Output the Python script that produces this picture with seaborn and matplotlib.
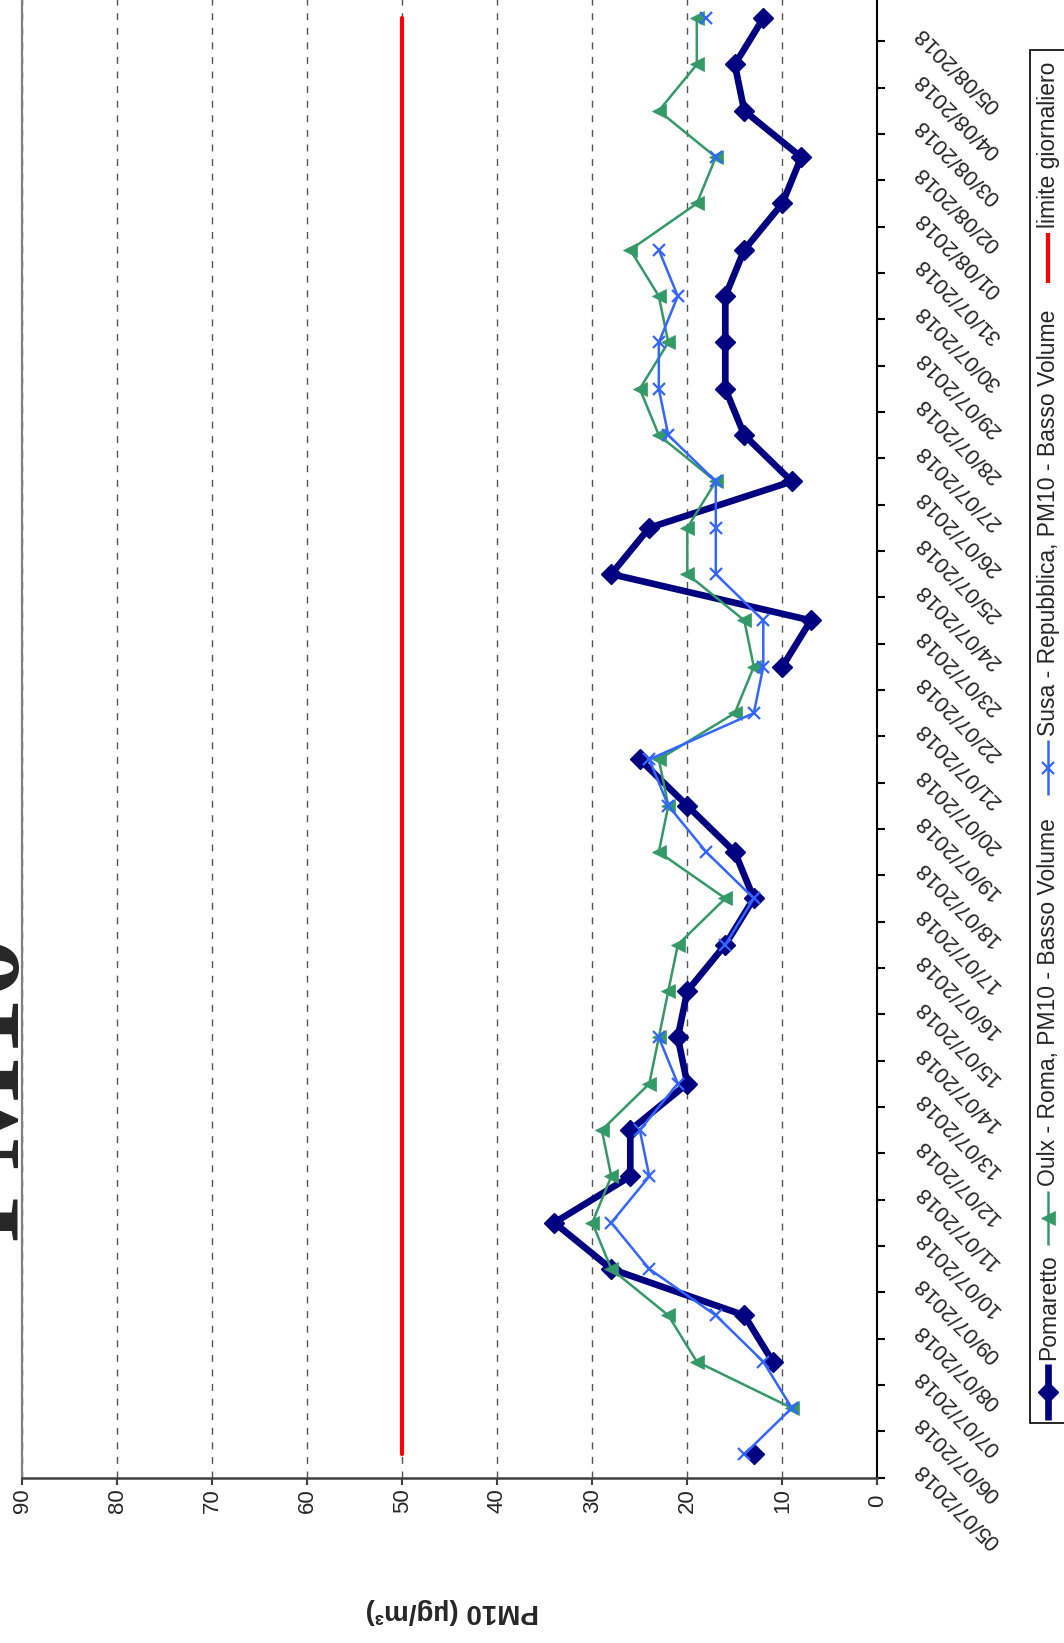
import numpy as np
import pandas as pd
import seaborn as sns
import matplotlib.pyplot as plt
from matplotlib.patches import Rectangle

nan = np.nan

# Data (one value per day, 05/07/2018 -> 05/08/2018)
dates = ['05/07/2018', '06/07/2018', '07/07/2018', '08/07/2018', '09/07/2018',
         '10/07/2018', '11/07/2018', '12/07/2018', '13/07/2018', '14/07/2018',
         '15/07/2018', '16/07/2018', '17/07/2018', '18/07/2018', '19/07/2018',
         '20/07/2018', '21/07/2018', '22/07/2018', '23/07/2018', '24/07/2018',
         '25/07/2018', '26/07/2018', '27/07/2018', '28/07/2018', '29/07/2018',
         '30/07/2018', '31/07/2018', '01/08/2018', '02/08/2018', '03/08/2018',
         '04/08/2018', '05/08/2018']
pomaretto = [13, nan, 11, 14, 28, 34, 26, 26, 20, 21, 20, 16, 13, 15, 20, 25,
             nan, 10, 7, 28, 24, 9, 14, 16, 16, 16, 14, 10, 8, 14, 15, 12]
oulx = [nan, 9, 19, 22, 28, 30, 28, 29, 24, 23, 22, 21, 16, 23, 22, 23,
        15, 13, 14, 20, 20, 17, 23, 25, 22, 23, 26, 19, 17, 23, 19, 19]
susa = [14, 9, 12, 17, 24, 28, 24, 25, 21, 23, nan, 16, 13, 18, 22, 24,
        13, 12, 12, 17, 17, 17, 22, 23, 23, 21, 23, nan, 17, nan, nan, 18]
limite = [50] * len(dates)
value_ticks = [0, 10, 20, 30, 40, 50, 60, 70, 80, 90]

names = ['Pomaretto', 'Oulx - Roma, PM10 - Basso Volume',
         'Susa - Repubblica, PM10 - Basso Volume', 'limite giornaliero']

sns.set_style('white')
plt.rcParams['font.family'] = ['Liberation Sans', 'DejaVu Sans']

W, H = 1064, 1643
fig = plt.figure(figsize=(W / 100, H / 100), dpi=100)
# chart is drawn rotated: values run right->left, days run bottom->top
ax = fig.add_axes([22.3 / W, (H - 1477.5) / H, 855 / W, 1482.5 / H])

day = np.arange(len(dates))


def segments(values):
    # split a series at missing days so the line shows gaps
    v = pd.Series(values, dtype=float)
    df = pd.DataFrame({'day': day, 'value': v, 'seg': v.isna().cumsum()})
    return df.dropna()


styles = [
    dict(color='#000080', lw=4.8, marker='D', ms=10, mew=1),
    dict(color='#339966', lw=1.8, marker='<', ms=9.5, mew=0.5),
    dict(color='#3366FF', lw=1.8, marker='x', ms=8, mew=1.6),
]
for series, st in zip([pomaretto, oulx, susa], styles):
    sns.lineplot(data=segments(series), x='value', y='day', units='seg',
                 estimator=None, orient='y', sort=False, legend=False, ax=ax,
                 color=st['color'], linewidth=st['lw'], marker=st['marker'],
                 markersize=st['ms'], markeredgewidth=st['mew'],
                 markeredgecolor=st['color'])
sns.lineplot(x=limite, y=day, orient='y', sort=False, estimator=None,
             color='#FF0000', linewidth=3, ax=ax, legend=False)

ax.set_xlim(90, 0)
ax.set_ylim(-0.5, len(dates) - 0.5)
ax.set_xlabel('')
ax.set_ylabel('')

# value axis (bottom)
ax.set_xticks(value_ticks)
ax.set_xticklabels([str(v) for v in value_ticks], rotation=90, va='center',
                   ha='center', fontsize=16)
ax.tick_params(axis='x', length=5, width=1.5, color='#404040', pad=11.5,
               direction='out', bottom=True)
ax.grid(axis='x', color='#555555', lw=1, linestyle=(0, (5, 5.5)))
ax.grid(axis='y', visible=False)

# day axis (right)
ax.yaxis.tick_right()
ax.set_yticks(day - 0.25)
ax.set_yticklabels(dates, fontsize=16)
plt.setp(ax.get_yticklabels(), rotation=135, rotation_mode='anchor',
         ha='right', va='center')
ax.tick_params(axis='y', which='major', length=0, pad=30)
ax.set_yticks(np.arange(len(dates) + 1) - 0.5, minor=True)
ax.tick_params(axis='y', which='minor', length=6, width=1.5, color='black',
               right=True, left=False, direction='out')

ax.spines['top'].set_visible(False)
ax.spines['left'].set_color('#808080')
ax.spines['left'].set_linewidth(1.6)
ax.spines['right'].set_color('black')
ax.spines['right'].set_linewidth(1.5)
ax.spines['bottom'].set_color('#404040')
ax.spines['bottom'].set_linewidth(1.8)

fig.text(452 / W, (H - 1611) / H, 'PM10 (µg/m³)', rotation=180,
         ha='center', va='center', fontsize=20, fontweight='bold')

# cut-off title
fig.text(16.5 / W, (H - 1240) / H, 'PM10', rotation=90, rotation_mode='anchor',
         ha='left', va='baseline', family=['Liberation Serif', 'DejaVu Serif'],
         fontweight='bold', fontsize=86)

# legend drawn by hand (rotated text)
ov = fig.add_axes([0, 0, 1, 1], zorder=5)
ov.set_xlim(0, W)
ov.set_ylim(H, 0)
ov.axis('off')
ov.add_patch(Rectangle((1030, 50), 80, 1373, facecolor='white',
                       edgecolor='black', lw=1.2))
leg_x = 1048
entries = [  # (segment start, segment end, text start)
    (1420, 1364, 1360),
    (1245, 1191, 1186),
    (795, 740, 736),
    (283, 233, 228),
]
leg_styles = styles + [dict(color='#FF0000', lw=3, marker=None, ms=0, mew=0)]
for name, (s0, s1, t0), st in zip(names, entries, leg_styles):
    ov.plot([leg_x, leg_x], [s0, s1], color=st['color'], lw=st['lw'],
            solid_capstyle='butt')
    if st['marker']:
        ov.plot([leg_x], [(s0 + s1) / 2], marker=st['marker'],
                ms=st['ms'], mew=st['mew'], color=st['color'],
                markeredgecolor=st['color'])
    ov.text(leg_x + 1, t0, name, rotation=90, rotation_mode='anchor',
            ha='left', va='center', fontsize=16.5)

fig.savefig('out.png', dpi=100)
